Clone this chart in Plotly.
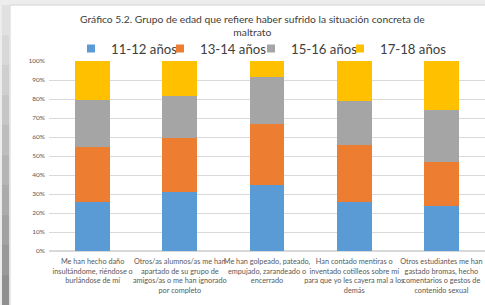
import plotly.graph_objects as go

categories = [
    "Me han hecho daño<br>insultándome, riéndose o<br>burlándose de mí",
    "Otros/as alumnos/as me han<br>apartado de su grupo de<br>amigos/as o me han ignorado<br>por completo",
    "Me han golpeado, pateado,<br>empujado, zarandeado o<br>encerrado",
    "Han contado mentiras o<br>inventado cotilleos sobre mí<br>para que yo les cayera mal a los<br>demás",
    "Otros estudiantes me han<br>gastado bromas, hecho<br>comentarios o gestos de<br>contenido sexual",
]
series_names = ["11-12 años", "13-14 años", "15-16 años", "17-18 años"]
v_11_12 = [25.6, 30.9, 34.7, 25.9, 23.9]
v_13_14 = [29.0, 28.6, 32.0, 29.9, 23.1]
v_15_16 = [24.9, 22.1, 25.1, 23.1, 27.2]
v_17_18 = [20.5, 18.4, 8.2, 21.1, 25.8]
tick_vals = [0, 10, 20, 30, 40, 50, 60, 70, 80, 90, 100]
tick_text = ["0%", "10%", "20%", "30%", "40%", "50%", "60%", "70%", "80%", "90%", "100%"]
title_text = "Gráfico 5.2. Grupo de edad que refiere haber sufrido la situación concreta de<br>maltrato"

colors = ["#5B9BD5", "#ED7D31", "#A5A5A5", "#FFC000"]
FONT = "Lato, 'Open Sans', sans-serif"

W, H = 485, 305
L, T, B = 49, 61, 54
PW, PH = W - L, H - T - B

def px_x(p):
    return (p - L) / PW

def px_y(p):
    return (H - B - p) / PH

legend_ids = ["legend", "legend2", "legend3", "legend4"]
legend_left_px = [71, 160, 251, 340]

fig = go.Figure()
for name, vals, col in zip(series_names, [v_11_12, v_13_14, v_15_16, v_17_18], colors):
    fig.add_trace(go.Bar(x=categories, y=vals, name=name, showlegend=False,
                         marker=dict(color=col, line=dict(width=0))))
# legend entries with small square symbols, one legend box per entry
for name, col, lid in zip(series_names, colors, legend_ids):
    fig.add_trace(go.Scatter(x=[None], y=[None], mode="markers", name=name, legend=lid,
                             marker=dict(symbol="square", size=8, color=col)))

shapes = [
    dict(type="rect", xref="paper", yref="paper", x0=px_x(-5), x1=px_x(W + 5), y0=px_y(H + 5), y1=px_y(-5),
         fillcolor="#ededed", line=dict(width=0), layer="below"),
    dict(type="rect", xref="paper", yref="paper", x0=px_x(10), x1=px_x(W + 5),
         y0=px_y(H + 5), y1=px_y(5), fillcolor="white",
         line=dict(width=1, color="#d4d4d4"), layer="below"),
]
steps = 10
for i in range(steps):
    y_top = 5 + i * (300 / steps)
    y_bot = y_top + 300 / steps
    g = int(225 - i * 9)
    shapes.append(dict(type="rect", xref="paper", yref="paper",
                       x0=px_x(2), x1=px_x(9), y0=px_y(y_bot), y1=px_y(y_top),
                       fillcolor=f"rgb({g},{g},{g})", line=dict(width=0), layer="below"))

layout_legends = {}
for lid, lx in zip(legend_ids, legend_left_px):
    layout_legends[lid] = dict(orientation="h", x=px_x(lx), xanchor="left", y=px_y(49), yanchor="middle",
                               font=dict(size=13.2, color="#404040", family=FONT),
                               itemwidth=30, bgcolor="rgba(0,0,0,0)")

fig.update_layout(
    width=W, height=H, autosize=False,
    margin=dict(l=L, r=0, t=T, b=B),
    barmode="stack", bargap=0.6,
    paper_bgcolor="white", plot_bgcolor="rgba(0,0,0,0)",
    font=dict(family=FONT, color="#595959"),
    annotations=[dict(text=title_text, xref="paper", yref="paper", x=px_x(252), y=px_y(25),
                      xanchor="center", yanchor="middle", showarrow=False,
                      font=dict(size=10.3, color="#404040", family=FONT))],
    shapes=shapes,
    **layout_legends,
)
fig.update_xaxes(showline=False, ticks="", tickfont=dict(size=7.3, color="#595959"),
                 tickangle=0, automargin=False, ticklabelstandoff=5)
fig.update_yaxes(range=[0, 100], tickvals=tick_vals, ticktext=tick_text,
                 tickfont=dict(size=6.5, color="#595959"), gridcolor="#d9d9d9",
                 gridwidth=1, zeroline=True, zerolinecolor="#d9d9d9", showline=False,
                 automargin=False, ticklabelstandoff=3)

fig.write_html("out.html", config={"displayModeBar": False},
               post_script="document.body.style.margin='0';document.body.style.overflow='hidden';")
